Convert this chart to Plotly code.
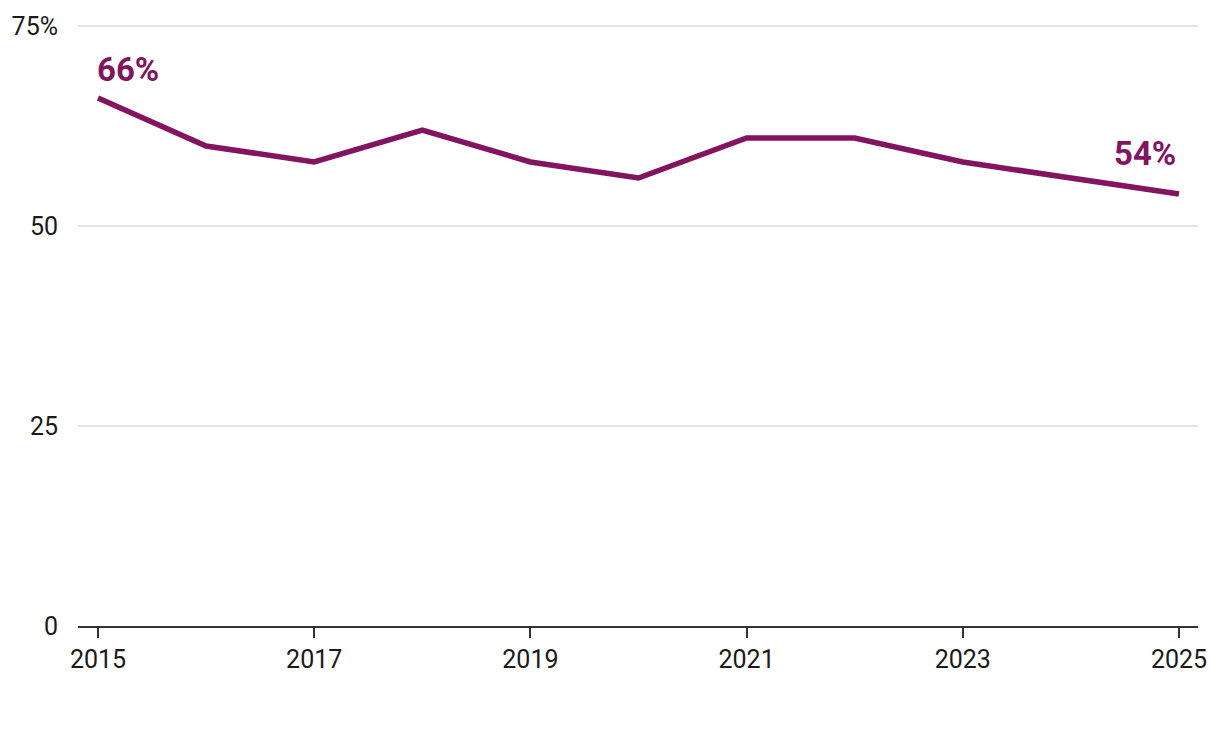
import plotly.graph_objects as go

years = [2015, 2016, 2017, 2018, 2019, 2020, 2021, 2022, 2023, 2024, 2025]
values = [66, 60, 58, 62, 58, 56, 61, 61, 58, 56, 54]
y_ticks = [0, 25, 50, 75]
y_ticktext = ["0", "25", "50", "75%"]
x_ticks = [2015, 2017, 2019, 2021, 2023, 2025]

LINE = "#83145F"
FONT = "Roboto, 'Noto Sans', sans-serif"

fig = go.Figure()
fig.add_trace(go.Scatter(
    x=years, y=values, mode="lines",
    line=dict(color=LINE, width=5.5),
    hoverinfo="skip", showlegend=False,
))

fig.add_annotation(x=years[0], y=values[0], xref="x", yref="y",
                   text=f"<b>{values[0]}%</b>", showarrow=False,
                   xanchor="left", yanchor="middle", yshift=29, xshift=-3,
                   font=dict(family=FONT, size=33, color=LINE))
fig.add_annotation(x=years[-1], y=values[-1], xref="x", yref="y",
                   text=f"<b>{values[-1]}%</b>", showarrow=False,
                   xanchor="right", yanchor="middle", yshift=41, xshift=-1,
                   font=dict(family=FONT, size=33, color=LINE))

fig.update_layout(
    width=1220, height=732,
    margin=dict(l=70, r=30, t=14, b=114),
    paper_bgcolor="white", plot_bgcolor="white",
    font=dict(family=FONT, size=25, color="#1a1a1a"),
    xaxis=dict(
        range=[2014.815, 2025.176],
        tickvals=x_ticks, ticktext=[str(v) for v in x_ticks],
        showgrid=False, zeroline=False, automargin=False,
        showline=True, linecolor="#333333", linewidth=2,
        ticks="outside", ticklen=10, tickwidth=2, tickcolor="#333333",
        fixedrange=True,
    ),
    yaxis=dict(
        range=[0, 75.5],
        tickvals=y_ticks, ticktext=y_ticktext,
        showgrid=True, gridcolor="#e3e3e3", gridwidth=1.5,
        zeroline=False, showline=False, automargin=False,
        ticks="outside", ticklen=14, tickcolor="rgba(0,0,0,0)",
        fixedrange=True,
    ),
)

fig.write_html("out.html")
